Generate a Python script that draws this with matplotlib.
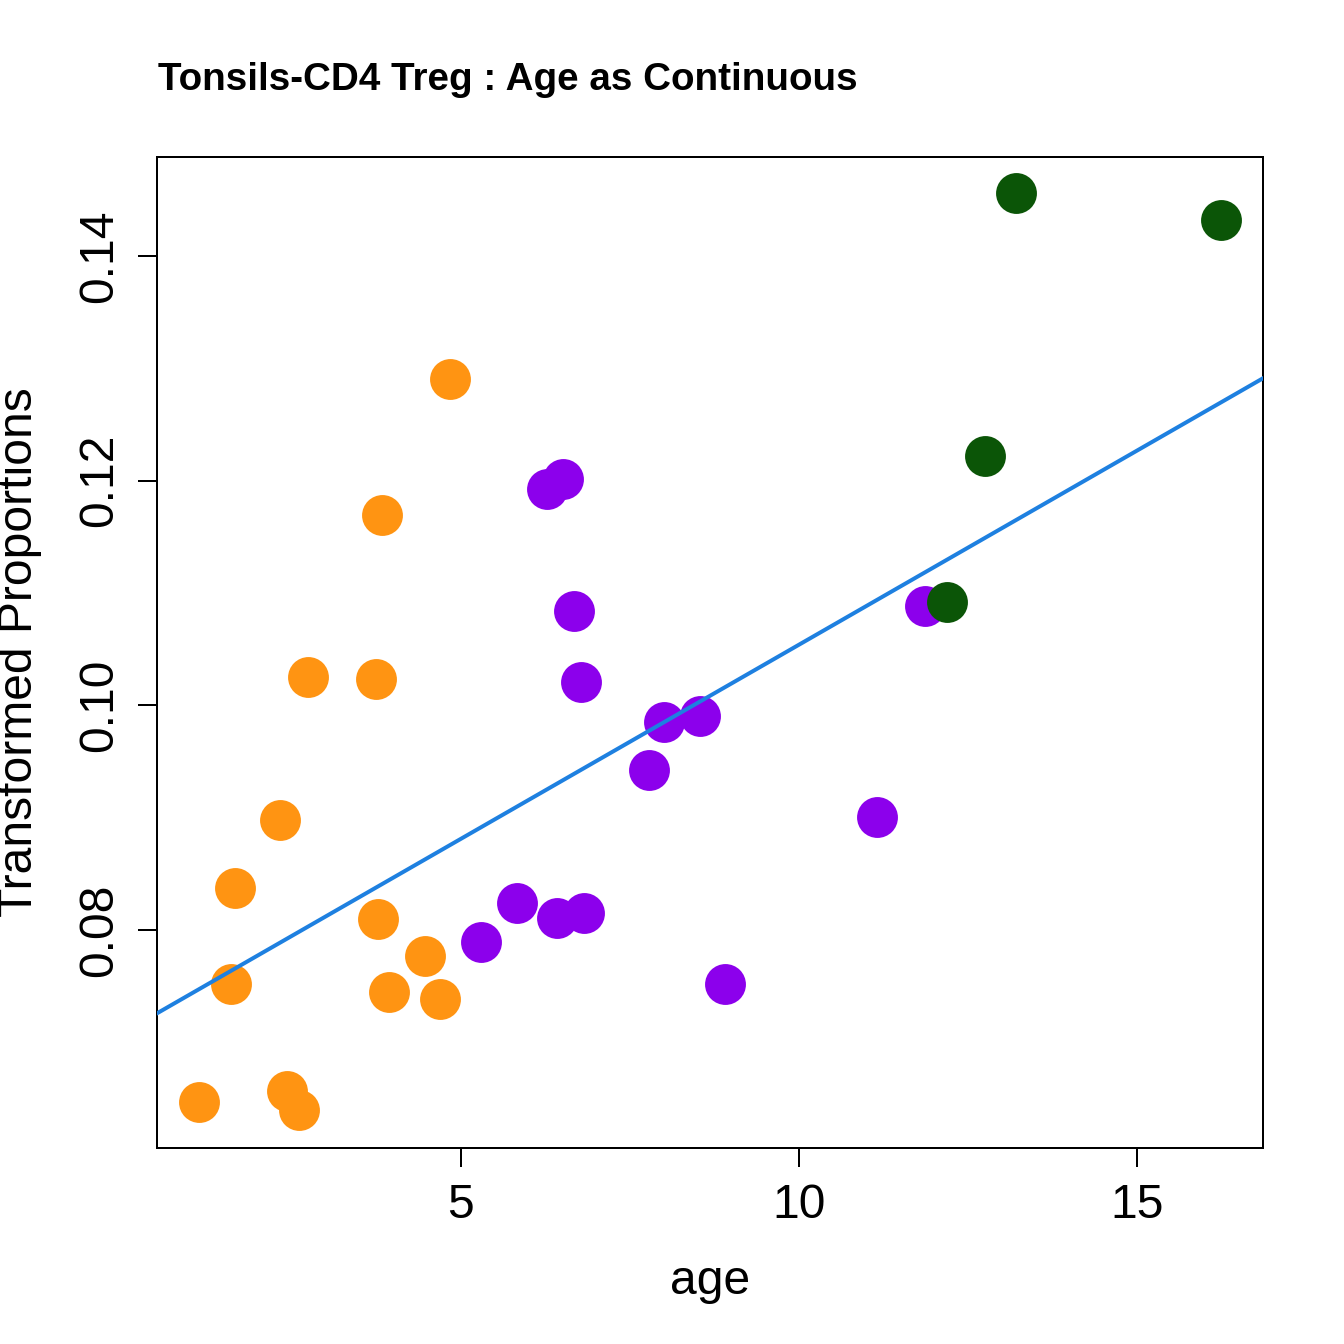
import matplotlib
matplotlib.use("Agg")
import matplotlib.pyplot as plt
import numpy as np

plt.rcParams['font.family'] = ['Liberation Sans', 'DejaVu Sans']

orange_age = [1.124, 1.598, 1.657, 2.322, 2.426, 2.604, 2.737, 3.743, 3.772, 3.831, 3.935, 4.467, 4.689, 4.837]
orange_val = [0.06466, 0.07517, 0.08371, 0.08976, 0.06564, 0.06395, 0.10249, 0.10231, 0.08095, 0.11691, 0.07446, 0.07766, 0.07383, 0.12902]
purple_age = [5.296, 5.828, 6.272, 6.420, 6.509, 6.820, 6.672, 6.775, 7.781, 8.003, 8.536, 8.905, 11.154, 11.864]
purple_val = [0.07891, 0.08238, 0.11923, 0.08104, 0.12012, 0.08149, 0.10837, 0.10205, 0.09421, 0.09849, 0.09902, 0.07517, 0.09003, 0.10881]
green_age = [12.189, 12.751, 13.210, 16.243]
green_val = [0.10917, 0.12216, 0.14557, 0.14317]

# fitted line
fit_intercept = 0.07085
fit_slope = 0.003455

xticks = [5, 10, 15]
yticks = [0.08, 0.10, 0.12, 0.14]

fig = plt.figure(figsize=(7, 7), dpi=192)
ax = fig.add_axes([157/1344, 1-1148/1344, (1263-157)/1344, (1148-157)/1344])

ms = 235
ax.scatter(orange_age, orange_val, s=ms, color='#FF9412', linewidths=0, zorder=3)
ax.scatter(purple_age, purple_val, s=ms, color='#8C00EC', linewidths=0, zorder=3)
ax.scatter(green_age, green_val, s=ms, color='#0B5507', linewidths=0, zorder=3)

xlim = (0.503, 16.864)
ylim = (0.0606, 0.14881)
xs = np.array(xlim)
ax.plot(xs, fit_intercept + fit_slope * xs, color='#1E80E0', lw=1.5, zorder=4)
ax.set_xlim(*xlim)
ax.set_ylim(*ylim)

ax.set_xticks(xticks)
ax.set_xticklabels([str(t) for t in xticks])
ax.set_yticks(yticks)
ax.set_yticklabels([f"{t:.2f}" for t in yticks], rotation=90, va='center')
ax.tick_params(direction='out', length=7, width=0.75, labelsize=18, pad=6)
for sp in ax.spines.values():
    sp.set_linewidth(0.75)

fig.text(0.5*(157+1263)/1344, 1-1281/1344, 'age', ha='center', va='center', fontsize=18)
fig.text(20/1344, 1-(157+1148)/2/1344, 'Transformed Proportions', ha='center', va='center', rotation=90, fontsize=18)
fig.text(158/1344, 1-80/1344, 'Tonsils-CD4 Treg : Age as Continuous', ha='left', va='center', fontsize=14.5, fontweight='bold')

fig.savefig('out.png', dpi=192)
